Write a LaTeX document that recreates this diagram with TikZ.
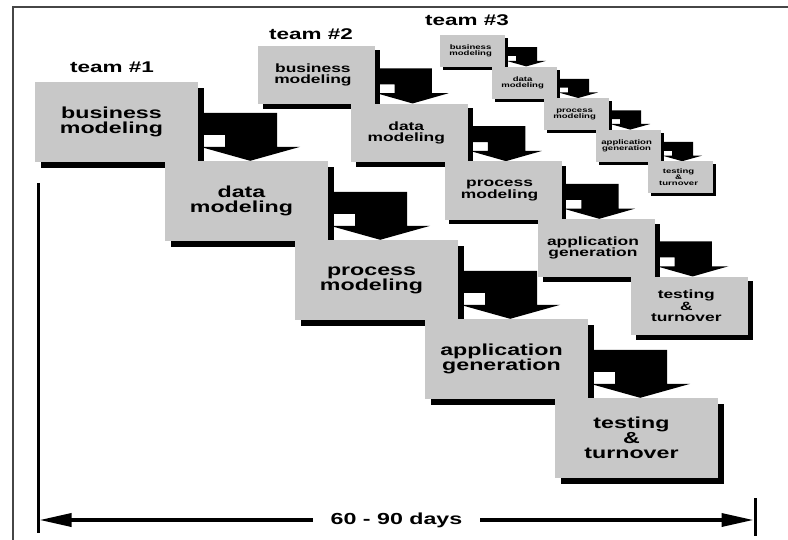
\documentclass[tikz,border=0pt]{standalone}
\usepackage{fontspec}
\newfontfamily\lblfont{Liberation Sans}[FakeStretch=1.45]
\usetikzlibrary{arrows.meta,shadows}
\definecolor{boxgray}{RGB}{200,200,200}
\definecolor{framegray}{RGB}{70,70,70}

\tikzset{
  stage/.style={draw=none, fill=boxgray, inner sep=0pt},
  stagetext/.style={align=center, inner sep=0pt, text=black},
  teamlabel/.style={font=\lblfont\bfseries\fontsize{15.5bp}{16bp}\selectfont, inner sep=0pt},
  bentarrow/.style={fill=black},
  rule/.style={line width=3bp, draw=black},
}

% One team: five stages falling to the right, each handing over to the next
% #1 name prefix, #2 #3 top left corner of the first stage,
% #4 #5 horizontal / vertical scale, #6 font size, #7 shadow offset
\newcommand\drawteam[7]{%
  \pgfmathsetmacro\tw{163*#4}%
  \pgfmathsetmacro\th{80*#5}%
  \pgfmathsetmacro\bs{#6*0.94}%
  \foreach \lab [count=\n from 0] in {{business\\modeling},{data\\modeling},{process\\modeling},{application\\generation},{testing\\\&\\turnover}} {
    \pgfmathsetmacro\cx{#2+(130*\n+81.5)*#4}
    \pgfmathsetmacro\cy{#3+(79*\n+40)*#5}
    \pgfmathsetmacro\lx{\cx-5*#4}
    \ifnum\n>0
      \pgfmathtruncatemacro\prv{\n-1}
      \begin{scope}[shift={(#1\prv.north east)}, xscale=#4, yscale=#5]
        \fill[bentarrow] (5,31) -- (79,31) -- (79,65) -- (102,65) -- (52,79)
          -- (2,65) -- (27,65) -- (27,53) -- (5,53) -- cycle;
      \end{scope}
    \fi
    \node[stage, minimum width=\tw bp, minimum height=\th bp,
          drop shadow={shadow xshift=#7bp, shadow yshift=-#7bp, fill=black, opacity=1}]
      (#1\n) at (\cx,\cy) {};
    \node[stagetext, font=\lblfont\bfseries\fontsize{#6bp}{\bs bp}\selectfont]
      (#1\n t) at (\lx,\cy) {\lab};
  }%
}

\begin{document}
\begin{tikzpicture}[x=1bp, y=-1bp]
  \useasboundingbox (0,0) rectangle (788,540);
  \fill[white] (0,0) rectangle (788,540);

  % outer frame
  \draw[framegray, line width=1.4bp] (13,541) -- (13,7) -- (789,7);

  % teams
  \drawteam{a}{35}{82}{1}{1}{16}{6}
  \drawteam{b}{258}{46}{0.718}{0.73}{12}{4.5}
  \drawteam{c}{440}{35}{0.4}{0.4}{6.6}{3}

  \node[teamlabel] (teamA) at (112,67) {team \#1};
  \node[teamlabel] (teamB) at (311,34) {team \#2};
  \node[teamlabel] (teamC) at (467,20) {team \#3};

  % time span
  \coordinate (lt) at (38,183);
  \coordinate (lb) at (38,533);
  \coordinate (rt) at (755,498);
  \coordinate (rb) at (755,536);
  \draw[rule] (lt) -- (lb);
  \draw[rule] (rt) -- (rb);
  \coordinate (dl) at (39.5,520);
  \coordinate (dr) at (753.5,520);
  \draw[line width=3.5bp, {Triangle[length=32bp,width=13bp]}-{Triangle[length=32bp,width=13bp]}]
    (dl) -- (dr)
    node[pos=0.5, fill=white, inner xsep=18bp, inner ysep=2bp,
         font=\lblfont\bfseries\fontsize{16bp}{16bp}\selectfont] (span) {60 - 90 days};
\end{tikzpicture}
\end{document}
